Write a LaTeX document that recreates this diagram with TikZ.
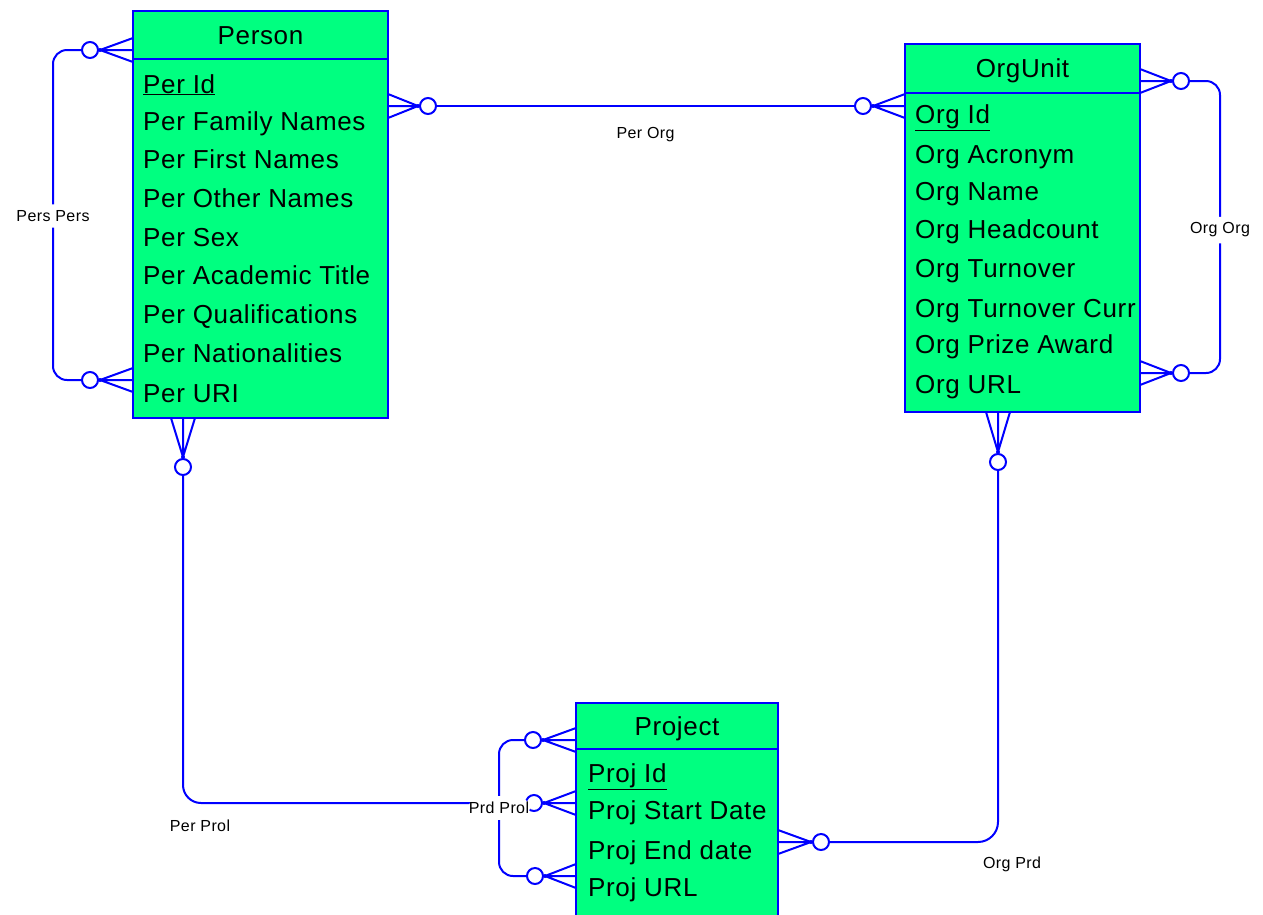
\documentclass[tikz,border=0pt]{standalone}
\usepackage{fontspec}
\setmainfont{Liberation Sans}[LetterSpace=2.5]
\usetikzlibrary{calc,positioning}
\definecolor{entgreen}{RGB}{0,255,128}
\definecolor{relblue}{RGB}{0,0,255}
\tikzset{
	entity/.style={draw=relblue, fill=entgreen, line width=2pt, rectangle, outer sep=0pt, inner sep=0pt, anchor=north west},
	enthead/.style={entity, font=\fontsize{26}{30}\selectfont, text height=18.6pt, text depth=0pt},
	attr/.style={anchor=base west, inner sep=0pt, font=\fontsize{26}{30}\selectfont},
	rel/.style={draw=relblue, line width=2pt},
	rellabel/.style={fill=white, inner xsep=1pt, inner ysep=6pt, font=\fontsize{16}{19}\selectfont},
}
\def\crowfoot#1#2#3#4{\begin{scope}[shift={(#1)},rotate=#2]
	\draw[rel] (0,-12) -- ({#4-10},0) -- (0,12) (0,0) -- ({#4-10},0);
	\fill[relblue] ({#4-10},0) circle (2pt);
	\draw[rel,fill=white] (#4,0) circle (8pt);
	\coordinate (#3) at ({#4+8},0);
\end{scope}}

\begin{document}
\begin{tikzpicture}[x=1pt,y=-1pt]
		%%%%% START %%%%%
		\useasboundingbox (0,0) rectangle (1263,914);
		
		% Person
		\node[enthead, minimum width=255pt, minimum height=48pt] (person) at (133,11) {Person};
		\node[entity, minimum width=255pt, minimum height=359pt] (personbody) at (person.south west) {};
		\node[attr] (perid) at (143,93) {\underline{Per Id}};
		\node[attr] (perfamily) at (143,130) {Per Family Names};
		\node[attr] (perfirst) at (143,168) {Per First Names};
		\node[attr] (perother) at (143,207) {Per Other Names};
		\node[attr] (persex) at (143,246) {Per Sex};
		\node[attr] (pertitle) at (143,284) {Per Academic Title};
		\node[attr] (perqual) at (143,323) {Per Qualifications};
		\node[attr] (pernat) at (143,362) {Per Nationalities};
		\node[attr] (peruri) at (143,402) {Per URI};
		
		% OrgUnit
		\node[enthead, minimum width=235pt, minimum height=49pt] (org) at (905,44) {OrgUnit};
		\node[entity, minimum width=235pt, minimum height=319pt] (orgbody) at (org.south west) {};
		\node[attr] (orgid) at (915,123) {\underline{Org Id}};
		\node[attr] (orgacr) at (915,163) {Org Acronym};
		\node[attr] (orgname) at (915,200) {Org Name};
		\node[attr] (orghead) at (915,238) {Org Headcount};
		\node[attr] (orgturn) at (915,277) {Org Turnover};
		\node[attr] (orgcurr) at (915,317) {Org Turnover Curr};
		\node[attr] (orgprize) at (915,353) {Org Prize Award};
		\node[attr] (orgurl) at (915,393) {Org URL};
		
		% Project
		\node[enthead, minimum width=202pt, minimum height=46pt] (proj) at (576,703) {Project};
		\node[entity, minimum width=202pt, minimum height=171pt] (projbody) at (proj.south west) {};
		\node[attr] (projid) at (588,782) {\underline{Proj Id}};
		\node[attr] (projstart) at (588,819) {Proj Start Date};
		\node[attr] (projend) at (588,859) {Proj End date};
		\node[attr] (projurl) at (588,896) {Proj URL};
		
		% crow's feet
		\crowfoot{$(personbody.north east)+(0,47)$}{0}{po1}{40}
		\crowfoot{$(orgbody.north west)+(0,13)$}{180}{po2}{42}
		\crowfoot{$(person.north west)+(0,39)$}{180}{pp1}{43}
		\crowfoot{$(personbody.south west)+(0,-38)$}{180}{pp2}{43}
		\crowfoot{$(org.north east)+(0,37)$}{0}{oo1}{41}
		\crowfoot{$(orgbody.south east)+(0,-39)$}{0}{oo2}{41}
		\crowfoot{$(personbody.south west)+(50,0)$}{-90}{pj1}{49}
		\crowfoot{$(projbody.north west)+(0,54)$}{180}{pj2}{42}
		\crowfoot{$(proj.north west)+(0,37)$}{180}{pr1}{43}
		\crowfoot{$(projbody.north west)+(0,127)$}{180}{pr2}{41}
		\crowfoot{$(projbody.north east)+(0,93)$}{0}{op1}{43}
		\crowfoot{$(orgbody.south west)+(93,0)$}{-90}{op2}{50}
		
		% relationships
		\draw[rel] (po1) -- (po2) node[midway, yshift=-29pt, rellabel, fill=none] (perorglabel) {Per Org};
		\draw[rel, rounded corners=14pt] (pp1) -| ++(-29,166) node[rellabel] (perslabel) {Pers Pers} |- (pp2);
		\draw[rel, rounded corners=14pt] (oo1) -| ++(31,149) node[rellabel] (orgorglabel) {Org Org} |- (oo2);
		\draw[rel, rounded corners=18pt] (pj1) |- (pj2);
		\node[rellabel, fill=none] (perprojlabel) at ($(pj1 |- pj2)+(17,23)$) {Per Prol};
		\draw[rel, rounded corners=14pt] (pr1) -| ++(-26,68) node[rellabel] (prodlabel) {Prd Prol} |- (pr2);
		\draw[rel, rounded corners=20pt] (op1) -| (op2);
		\node[rellabel, fill=none] (orgprdlabel) at ($(op1 -| op2)+(14,22)$) {Org Prd};
		%%%%% END %%%%%
	\end{tikzpicture}
\end{document}
